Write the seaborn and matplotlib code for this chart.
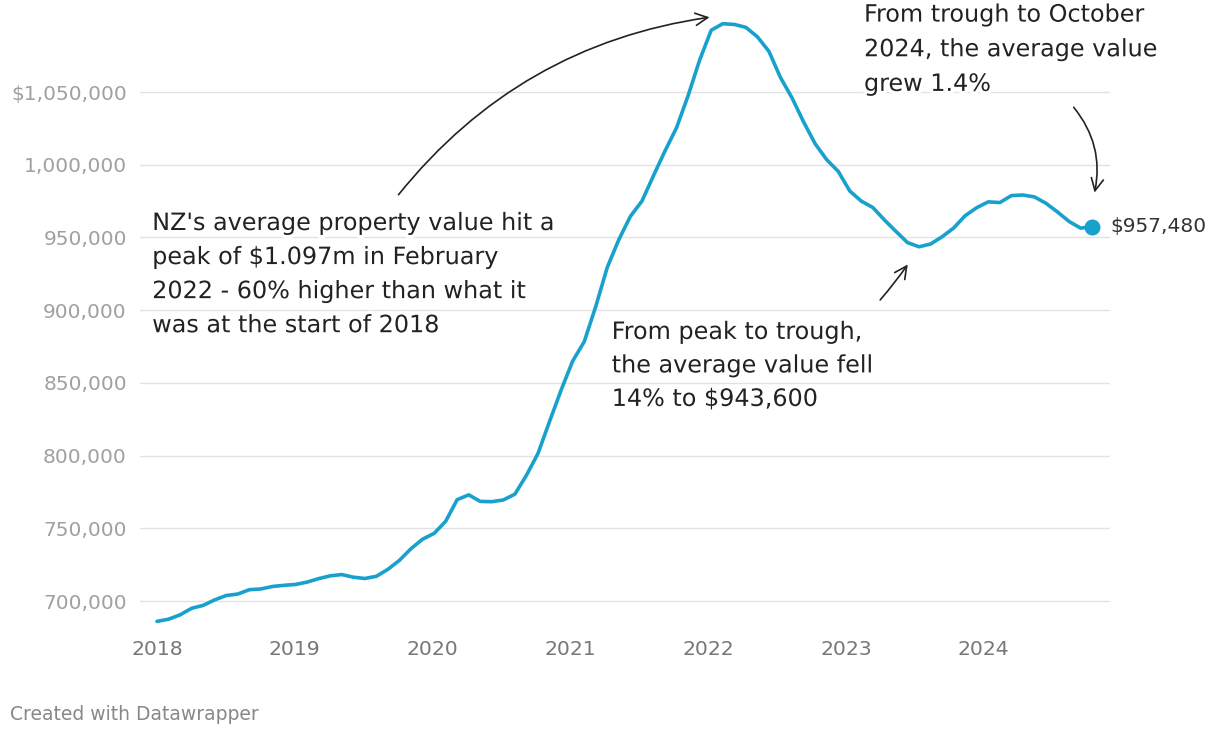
# NZ average property value, Jan 2018 - Oct 2024
import pandas as pd
import matplotlib.pyplot as plt
import matplotlib.dates as mdates
import matplotlib.ticker as mticker
import matplotlib.patheffects as pe
import seaborn as sns

# monthly average values
values = [686000, 687500, 690500, 695000, 697000, 700800, 703800, 704800, 707800, 708300,
          710000, 710800, 711400, 713000, 715400, 717300, 718200, 716400, 715500, 717000,
          721800, 728000, 736000, 742500, 746500, 754800, 769700, 773000, 768500, 768300,
          769500, 773500, 786500, 801500, 823500, 845000, 865000, 878300, 902500, 929500,
          948500, 964500, 975000, 992500, 1009500, 1025500, 1047500, 1072000, 1092500, 1097000,
          1096500, 1094500, 1088000, 1078000, 1060000, 1046000, 1029500, 1014500, 1003500, 995500,
          982000, 975000, 970600, 962100, 954200, 946500, 943600, 945500, 950500, 956500,
          965000, 970500, 974500, 974000, 978800, 979200, 977900, 973500, 967500, 961000,
          956400, 957480]
dates = pd.date_range('2018-01-01', '2024-10-15', periods=len(values))
year_ticks = [2018, 2019, 2020, 2021, 2022, 2023, 2024]
y_ticks = [700000, 750000, 800000, 850000, 900000, 950000, 1000000, 1050000]

df = pd.DataFrame({'date': dates, 'value': values})

LINE = '#18a1cd'
TXT = '#222222'
halo = [pe.withStroke(linewidth=5, foreground='white')]


def yr(y):
    # decimal year -> timestamp
    return pd.Timestamp('2018-01-01') + pd.Timedelta(days=(y - 2018) * 365.25)


sns.set_style('white')
plt.rcParams['font.family'] = ['DejaVu Sans']

fig = plt.figure(figsize=(12.2, 7.38), dpi=100)
ax = fig.add_axes([0.1148, 0.1531, 0.795, 0.8266])

sns.lineplot(data=df, x='date', y='value', ax=ax, color=LINE, linewidth=2.6)
ax.plot(dates[-1], values[-1], 'o', color=LINE, markersize=10.5)
ax.annotate(f'${values[-1]:,}', (dates[-1], values[-1]), xytext=(13, 0),
            textcoords='offset points', va='center', ha='left', fontsize=14.5, color='#333333')

ax.set_xlim(yr(2017.877), yr(2024.916))
ax.set_ylim(683500, 1103000)
ax.set_xticks([pd.Timestamp(f'{y}-01-01') for y in year_ticks])
ax.xaxis.set_major_formatter(mdates.DateFormatter('%Y'))
ax.set_yticks(y_ticks)
ax.yaxis.set_major_formatter(mticker.FuncFormatter(
    lambda v, p: f'${int(v):,}' if v == y_ticks[-1] else f'{int(v):,}'))
ax.tick_params(axis='y', length=0, pad=9.5, labelsize=14.5, labelcolor='#a0a0a0')
ax.tick_params(axis='x', length=0, pad=11, labelsize=14.7, labelcolor='#777777')
ax.set_xlabel('')
ax.set_ylabel('')
ax.yaxis.grid(True, color='#e2e2e2', linewidth=1)
ax.xaxis.grid(False)
ax.set_axisbelow(True)
for s in ax.spines.values():
    s.set_visible(False)

# annotations
ax.text(yr(2017.965), 968200,
        "NZ's average property value hit a\npeak of $1.097m in February\n2022 - 60% higher than what it\nwas at the start of 2018",
        fontsize=17.2, color=TXT, va='top', ha='left', linespacing=1.53, path_effects=halo)
ax.annotate('', xy=(yr(2022.03), 1101700), xytext=(yr(2019.74), 977900),
            arrowprops=dict(arrowstyle='->', color=TXT, lw=1.2, mutation_scale=22,
                            connectionstyle='arc3,rad=-0.2'), annotation_clip=False)

ax.text(yr(2021.30), 893300,
        'From peak to trough,\nthe average value fell\n14% to $943,600',
        fontsize=17.2, color=TXT, va='top', ha='left', linespacing=1.5, path_effects=halo)
ax.annotate('', xy=(yr(2023.46), 933000), xytext=(yr(2023.235), 905600),
            arrowprops=dict(arrowstyle='->', color=TXT, lw=1.2, mutation_scale=22,
                            connectionstyle='arc3,rad=0.03'))

ax.text(yr(2023.131), 1111500,
        'From trough to October\n2024, the average value\ngrew 1.4%',
        fontsize=17.2, color=TXT, va='top', ha='left', linespacing=1.56, clip_on=False,
        path_effects=halo)
ax.annotate('', xy=(yr(2024.80), 979000), xytext=(yr(2024.64), 1041000),
            arrowprops=dict(arrowstyle='->', color=TXT, lw=1.2, mutation_scale=22,
                            connectionstyle='arc3,rad=-0.25'))

fig.text(10 / 1220, 1 - 715 / 738, 'Created with Datawrapper', fontsize=13.5, color='#888888',
         va='center', ha='left')

fig.savefig('out.png', dpi=100)
